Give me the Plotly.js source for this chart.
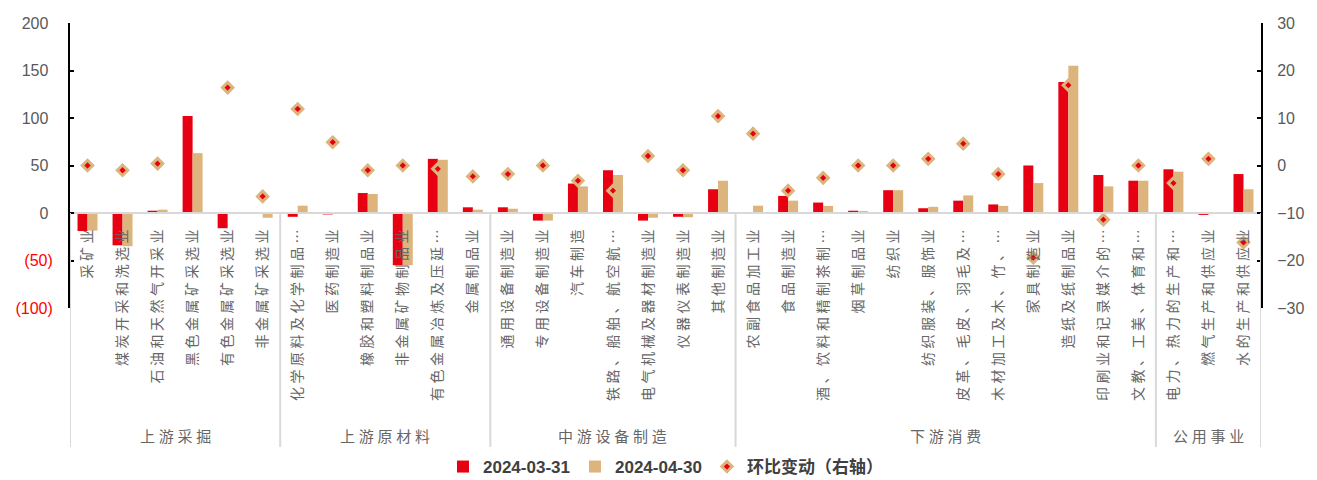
<!DOCTYPE html>
<html>
<head>
<meta charset="utf-8">
<script src="https://cdn.plot.ly/plotly-3.0.1.min.js"></script>
<style>html,body{margin:0;padding:0;background:#fff;}#chart{width:1317px;height:480px;}</style>
</head>
<body>
<div id="chart"></div>
<script>
// ---- data ----
const categories = [
  '采矿业','煤炭开采和洗选业','石油和天然气开采业','黑色金属矿采选业','有色金属矿采选业','非金属矿采选业',
  '化学原料及化学制品…','医药制造业','橡胶和塑料制品业','非金属矿物制品业','有色金属冶炼及压延…','金属制品业',
  '通用设备制造业','专用设备制造业','汽车制造','铁路、船舶、航空航…','电气机械及器材制造业','仪器仪表制造业','其他制造业',
  '农副食品加工业','食品制造业','酒、饮料和精制茶制…','烟草制品业','纺织业','纺织服装、服饰业','皮革、毛皮、羽毛及…',
  '木材加工及木、竹、…','家具制造业','造纸及纸制品业','印刷业和记录媒介的…','文教、工美、体育和…',
  '电力、热力的生产和…','燃气生产和供应业','水的生产和供应业'
];
const groupNames  = ['上游采掘','上游原材料','中游设备制造','下游消费','公用事业'];
const groupCounts = [6, 6, 7, 12, 3];

const seriesNames = ['2024-03-31', '2024-04-30', '环比变动（右轴）'];
const values_0331 = [
  -19, -34, 2.4, 102, -16, 0,
  -4, -1.5, 21, -55, 57, 6,
  6, -8, 31, 45, -8, -4, 25,
  0, 18, 11, 2.4, 24, 5, 13, 9, 50, 138, 40, 34,
  46, -2, 41
];
const values_0430 = [
  -18.5, -35, 3.5, 63, 0, -5,
  7.7, 0, 20, -55, 56, 3.5,
  4.5, -8, 28, 40, -5, -4.5, 34,
  7.7, 13, 7.5, 2, 24, 6.5, 18.5, 7.5, 31.5, 155, 28, 34,
  43.5, 0, 25
];
const values_change = [
  0, -1, 0.4, -38.8, 16.4, -6.5,
  11.9, 4.9, -1, 0, -0.7, -2.3,
  -1.8, 0, -3.2, -5.3, 2, -1, 10.4,
  6.7, -5.3, -2.6, 0, 0, 1.4, 4.6, -1.8, -19.4, 16.9, -11.4, 0,
  -3.7, 1.4, -16.2
];
const leftTickVals  = [200, 150, 100, 50, 0, -50, -100];
const leftTickText  = ['200', '150', '100', '50', '0', '(50)', '(100)'];
const rightTickVals = [30, 20, 10, 0, -10, -20, -30];
const rightTickText = ['30', '20', '10', '0', '−10', '−20', '−30'];

// ---- styling ----
const RED = '#E60012', TAN = '#DCB47C', GREY = '#595959', LABEL = '#666666', LINE = '#D9D9D9';
const spaced = s => Array.from(s).join('\u2005');

const traces = [
  {type:'bar', name:seriesNames[0], x:categories, y:values_0331, marker:{color:RED}, yaxis:'y'},
  {type:'bar', name:seriesNames[1], x:categories, y:values_0430, marker:{color:TAN}, yaxis:'y'},
  {type:'scatter', mode:'markers', name:seriesNames[2], x:categories, y:values_change, yaxis:'y2',
   marker:{symbol:'diamond', size:8, color:RED, line:{color:TAN, width:3}}}
];

const plotTop = 23, plotBottom = 308, H = 480;
const pxToPaper = py => (plotBottom - py) / (plotBottom - plotTop);

const shapes = [];
const annotations = [];
let start = 0;
const bounds = [-0.5];
groupCounts.forEach((c, i) => {
  const end = start + c;
  bounds.push(end - 0.5);
  annotations.push({
    xref:'x', yref:'paper', x:(start + end - 1) / 2, y:pxToPaper(435),
    text: spaced(groupNames[i]), showarrow:false, xanchor:'center', yanchor:'middle',
    font:{family:'Noto Sans CJK SC', size:15, color:LABEL}
  });
  start = end;
});
bounds.forEach(b => shapes.push({
  type:'line', xref:'x', yref:'paper', x0:b, x1:b, y0:pxToPaper(213), y1:pxToPaper(447),
  line:{color:LINE, width:2}, layer:'above'
}));

const leftText = leftTickText.map((t, i) => leftTickVals[i] < 0
  ? '<span style="color:#FF0000">' + t + '</span>' : t + '\u00a0');

const layout = {
  width:1317, height:H,
  margin:{l:70, r:56, t:plotTop, b:H - plotBottom, pad:0, autoexpand:false},
  paper_bgcolor:'#fff', plot_bgcolor:'#fff',
  barmode:'group', bargap:0.43, bargroupgap:0,
  showlegend:true,
  legend:{orientation:'h', x:0.5, xanchor:'center', y:pxToPaper(467), yanchor:'middle',
    font:{family:'Liberation Sans, Noto Sans CJK SC', size:17, color:'#404040', weight:'bold'},
    itemwidth:30, tracegroupgap:0},
  xaxis:{type:'category', range:[-0.5, categories.length - 0.5], anchor:'free', position:pxToPaper(213),
    showline:true, linecolor:LINE, linewidth:2, showgrid:false, zeroline:false, ticks:'',
    tickangle:-90, tickmode:'array', tickvals:categories, ticktext:categories.map(spaced),
    tickfont:{family:'Noto Sans CJK SC', size:14, color:LABEL}, ticklabelstandoff:10, automargin:false},
  yaxis:{range:[-100, 200], tickmode:'array', tickvals:leftTickVals, ticktext:leftText,
    showline:true, linecolor:'#000', linewidth:2, ticks:'inside', ticklen:4, tickwidth:2, tickcolor:'#000',
    showgrid:false, zeroline:false, tickfont:{family:'Liberation Sans', size:16, color:GREY},
    ticklabelstandoff:12, automargin:false},
  yaxis2:{range:[-30, 30], overlaying:'y', side:'right', tickmode:'array', tickvals:rightTickVals, ticktext:rightTickText,
    showline:true, linecolor:'#000', linewidth:2, ticks:'inside', ticklen:4, tickwidth:2, tickcolor:'#000',
    showgrid:false, zeroline:false, tickfont:{family:'Liberation Sans', size:16, color:GREY},
    ticklabelstandoff:11, automargin:false},
  shapes: shapes,
  annotations: annotations
};

Plotly.newPlot('chart', traces, layout, {displayModeBar:false, staticPlot:true});
</script>
</body>
</html>
